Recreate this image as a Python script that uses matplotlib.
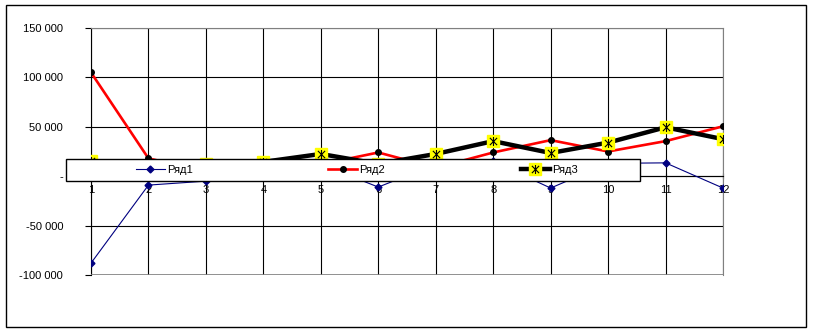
import matplotlib
matplotlib.use('Agg')
import matplotlib.pyplot as plt
from matplotlib.patches import Rectangle
from matplotlib.path import Path
from matplotlib.ticker import FuncFormatter

plt.rcParams['font.family'] = ['Liberation Sans', 'DejaVu Sans']
plt.rcParams['font.size'] = 8

# data
cats = list(range(1, 13))
ryad1 = [-88000, -9000, -5000, 3000, 12000, -11000, 12000, 15000, -12000, 13000, 13500, -12000]
ryad2 = [105000, 18000, 5000, 8000, 12000, 24000, 8500, 24000, 36500, 25000, 35500, 50500]
ryad3 = [15000, 10000, 12000, 14500, 22500, 12500, 22500, 35500, 23500, 34000, 49500, 37500]
names = ['Ряд1', 'Ряд2', 'Ряд3']
yticks = [-100000, -50000, 0, 50000, 100000, 150000]

# excel "star" marker: vertical bar plus an x
star = Path([(0, -1), (0, 1), (-0.8, -0.8), (0.8, 0.8), (-0.8, 0.8), (0.8, -0.8)],
            [Path.MOVETO, Path.LINETO] * 3)

fig = plt.figure(figsize=(8.13, 3.32), dpi=100)
ax = fig.add_axes([91/813, 1-275/332, (723-91)/813, (275-28)/332])

# outer chart frame
fig.patches.append(Rectangle((6/813, 1-327/332), 800/813, 322/332, transform=fig.transFigure,
                             fill=False, edgecolor='black', linewidth=1))

l1, = ax.plot(cats, ryad1, color='#000080', lw=0.8, marker='D', ms=3.5, zorder=3)
l2, = ax.plot(cats, ryad2, color='red', lw=1.9, marker='o', ms=4, mfc='black', mec='black', zorder=4)
l3, = ax.plot(cats, ryad3, color='black', lw=3.2, marker='s', ms=8.5, mfc='yellow', mec='yellow', zorder=5)
l3s, = ax.plot(cats, ryad3, ls='none', marker=star, ms=6.5, mec='black', mew=0.8, zorder=6)

ax.set_xlim(1, 12)
ax.set_ylim(-100000, 150000)
ax.set_xticks(cats)
ax.set_yticks(yticks)
ax.yaxis.set_major_formatter(FuncFormatter(lambda v, p: '-' if v == 0 else f'{int(v):,}'.replace(',', ' ')))
ax.grid(True, color='black', lw=0.8)

for s in ['top', 'right']:
    ax.spines[s].set_color('#808080')
ax.spines['bottom'].set_position(('data', 0))
ax.spines['left'].set_color('black')
ax.axhline(-100000, color='#808080', lw=1.2, zorder=2.6)

ax.tick_params(axis='y', length=4, width=0.8, pad=16)
ax.tick_params(axis='x', direction='inout', length=5, width=0.8, pad=4)

# legend box
fig.patches.append(Rectangle((66/813, 1-181/332), (640-66)/813, 22/332, transform=fig.transFigure,
                             facecolor='white', edgecolor='black', linewidth=1, zorder=4))
fig.legend([l1, l2, (l3, l3s)], names, loc='center left', ncol=3, frameon=False,
           bbox_to_anchor=(136/813, 1-170/332), borderpad=0, borderaxespad=0,
           columnspacing=12.2, handlelength=2.6, handletextpad=0.2, fontsize=8)

fig.savefig('out.png', dpi=100)
